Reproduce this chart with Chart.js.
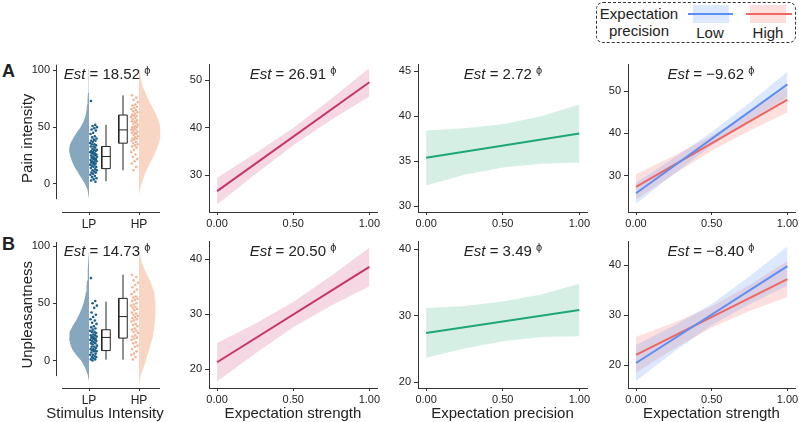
<!DOCTYPE html>
<html>
<head>
<meta charset="utf-8">
<script src="https://cdn.jsdelivr.net/npm/chart.js@4.4.1/dist/chart.umd.min.js"></script>
<style>
  body { margin: 0; background: #fff; width: 799px; height: 422px; position: relative; overflow: hidden;
         font-family: "Liberation Sans", Arial, sans-serif; color: #222; }
  canvas { position: absolute; }
  .est { position: absolute; font-size: 15px; white-space: nowrap; transform: translate(-50%, -50%); }
  .est sup { font-size: 11px; vertical-align: 5px; }
  .tag { position: absolute; font-weight: bold; font-size: 18px; }
  .lg { position: absolute; font-size: 15px; line-height: 17px; text-align: center; }
</style>
</head>
<body>
<div style="position:absolute;left:596px;top:2px;width:200px;height:41px;border:1px dashed #333;border-radius:7px;box-sizing:border-box"></div>
<div class="lg" style="left:599px;top:5px;width:80px">Expectation<br>precision</div>
<div style="position:absolute;left:693px;top:5px;width:36px;height:18px;background:rgba(95,150,250,0.22)"></div>
<div style="position:absolute;left:688px;top:13px;width:45px;height:2px;background:#5B8FF6"></div>
<div class="lg" style="left:690px;top:24px;width:40px">Low</div>
<div style="position:absolute;left:750px;top:5px;width:36px;height:18px;background:rgba(245,110,105,0.22)"></div>
<div style="position:absolute;left:746px;top:13px;width:46px;height:2px;background:#EF6560"></div>
<div class="lg" style="left:743px;top:24px;width:50px">High</div>
<div class="tag" style="left:2px;top:61px">A</div>
<div class="tag" style="left:2px;top:234px">B</div>
<script>
// ---- data ----
var cloudTicks = [1, 2];
var cloudLabels = ['LP', 'HP'];
var xTicks = [0, 0.5, 1];
var lineX = [0, 1];
var bandX = [0, 0.25, 0.5, 0.75, 1];

var estTop = ['18.52', '26.91', '2.72', '\u22129.62'];
var estBottom = ['14.73', '20.50', '3.49', '\u22128.40'];

// raincloud, pain intensity
var painLPLevels = [-13, -5, 0, 5, 10, 15, 20, 25, 30, 35, 40, 45, 50, 55, 60, 65, 70, 75, 80, 90, 100, 103];
var painLPWidths = [0, 0.03, 0.08, 0.15, 0.22, 0.29, 0.34, 0.38, 0.40, 0.38, 0.32, 0.25, 0.17, 0.11, 0.07, 0.05, 0.04, 0.03, 0.02, 0.01, 0.005, 0];
var painHPLevels = [-10, -5, 0, 5, 10, 15, 20, 25, 30, 35, 40, 45, 50, 55, 60, 65, 70, 75, 80, 85, 90, 95, 100, 103];
var painHPWidths = [0, 0.02, 0.05, 0.09, 0.13, 0.18, 0.24, 0.30, 0.35, 0.39, 0.42, 0.43, 0.42, 0.40, 0.35, 0.30, 0.24, 0.18, 0.13, 0.08, 0.05, 0.03, 0.01, 0];
var painLP = [73, 52, 51, 50, 49, 48, 47, 45, 44, 42, 41, 40, 39, 38, 38, 37, 36, 35, 35, 34, 33, 33, 32, 31, 30, 30, 29, 29,
  28, 28, 27, 27, 26, 26, 25, 25, 24, 24, 23, 23, 22, 22, 21, 21, 20, 20, 19, 19, 18, 18, 17, 17, 16, 15, 15, 14, 13, 12,
  12, 11, 10, 10, 9, 8, 7, 6, 5, 4, 3, 2];
var painHP = [78, 76, 74, 72, 70, 69, 68, 67, 66, 65, 64, 63, 62, 61, 60, 60, 59, 58, 57, 56, 55, 55, 54, 53, 52, 51, 50, 50,
  49, 48, 48, 47, 46, 45, 45, 44, 43, 42, 41, 40, 40, 39, 38, 37, 36, 35, 34, 33, 32, 30, 28, 26, 24, 22, 20, 18, 15, 12];
var painLPBox = [2.4, 13.5, 24.2, 33, 52];
var painHPBox = [12, 35.9, 47.6, 60.7, 78];

// raincloud, unpleasantness
var unplLPLevels = [-18, -12, -6, 0, 5, 10, 15, 20, 25, 30, 35, 40, 45, 50, 55, 60, 65, 70, 80, 90, 95];
var unplLPWidths = [0, 0.03, 0.08, 0.16, 0.26, 0.34, 0.38, 0.40, 0.39, 0.33, 0.26, 0.20, 0.15, 0.11, 0.08, 0.06, 0.05, 0.04, 0.025, 0.01, 0];
var unplHPLevels = [-20, -12, -5, 0, 5, 10, 20, 30, 40, 50, 60, 70, 75, 80, 85, 90, 94];
var unplHPWidths = [0, 0.04, 0.10, 0.14, 0.17, 0.21, 0.27, 0.31, 0.33, 0.33, 0.30, 0.22, 0.16, 0.11, 0.06, 0.03, 0];
var unplLP = [72, 52, 50, 48, 46, 42, 40, 38, 36, 35, 33, 32, 30, 29, 28, 27, 26, 25, 25, 24, 23, 22, 22, 21, 21, 20, 20, 19,
  19, 18, 18, 17, 17, 16, 15, 15, 14, 13, 12, 12, 11, 10, 10, 9, 9, 8, 8, 7, 6, 5, 5, 4, 3, 3, 2, 1, 1, 0];
var unplHP = [75, 73, 70, 68, 66, 64, 62, 60, 58, 56, 55, 54, 53, 52, 50, 49, 48, 47, 46, 45, 44, 42, 41, 40, 39, 38, 37, 36,
  35, 34, 32, 31, 30, 28, 27, 26, 25, 24, 22, 21, 20, 19, 18, 16, 15, 13, 12, 10, 8, 6, 5, 3, 1];
var unplLPBox = [0.8, 8.7, 20.2, 26.9, 51.4];
var unplHPBox = [0.8, 19.6, 38.4, 54.3, 75.1];

// model lines + bands, pain intensity
var painStrengthLine = [26.7, 49.6];
var painStrengthUpper = [29.5, 34.6, 39.95, 46.1, 52.6];
var painStrengthLower = [23.9, 30.2, 36.35, 41.7, 46.6];
var painPrecisionLine = [35.37, 38.07];
var painPrecisionUpper = [38.4, 38.65, 39.1, 40.0, 41.3];
var painPrecisionLower = [32.3, 33.5, 34.3, 34.7, 34.85];
var painLowLine = [25.8, 51.6];
var painLowUpper = [28.3, 34.15, 40.3, 47.25, 54.6];
var painLowLower = [23.3, 30.35, 37.1, 43.05, 48.6];
var painHighLine = [27.3, 48.0];
var painHighUpper = [30.3, 34.7, 39.45, 45.0, 51.0];
var painHighLower = [24.3, 30.3, 35.85, 40.6, 45.0];

// model lines + bands, unpleasantness
var unplStrengthLine = [21.3, 38.6];
var unplStrengthUpper = [24.8, 28.3, 32.25, 37.0, 42.1];
var unplStrengthLower = [17.8, 22.9, 27.65, 31.6, 35.1];
var unplPrecisionLine = [27.4, 30.85];
var unplPrecisionUpper = [31.15, 31.46, 32.13, 33.19, 34.8];
var unplPrecisionLower = [23.65, 25.06, 26.13, 26.79, 26.9];
var unplLowLine = [20.4, 39.8];
var unplLowUpper = [24.0, 27.85, 32.2, 37.75, 43.7];
var unplLowLower = [16.8, 22.65, 28.0, 32.15, 35.9];
var unplHighLine = [22.05, 37.2];
var unplHighUpper = [25.65, 28.44, 31.73, 36.01, 40.8];
var unplHighLower = [18.45, 23.24, 27.53, 30.81, 33.6];

// ---- layout / style ----
var ROWS = [[62.5, 211], [239.5, 387]];
var COLS = [[57, 165], [209, 377], [418, 587], [628, 795]];
var ESTX = [107, 293, 503, 711];
var ESTY = [73, 249.5];

var STR = { line: '#C7336B', band: 'rgba(205,60,115,0.2)' };
var PREC = { line: '#1EA775', band: 'rgba(45,175,125,0.2)' };
var LOW = { line: '#5B8FF6', band: 'rgba(95,150,250,0.22)' };
var HIGH = { line: '#EF6560', band: 'rgba(245,110,105,0.22)' };

Chart.defaults.font.family = '"Liberation Sans", Arial, sans-serif';
Chart.defaults.font.size = 11;
Chart.defaults.color = '#222';
Chart.defaults.animation = false;

function pts(xs, ys) {
  return ys.map(function (y, i) { return { x: xs[i], y: y }; });
}

function band(vals_u, vals_l, col) {
  return [
    { data: pts(bandX, vals_u), borderWidth: 0, borderColor: 'transparent', pointRadius: 0, fill: false, order: 3 },
    { data: pts(bandX, vals_l), borderWidth: 0, borderColor: 'transparent', pointRadius: 0, fill: '-1', backgroundColor: col.band, order: 3 }
  ];
}

function line(vals, col, ord) {
  return { data: pts(lineX, vals), borderColor: col.line, borderWidth: 2, pointRadius: 0, fill: false, order: ord };
}

function violin(center, side, levels, widths, color) {
  var d = levels.map(function (y, i) { return { x: center + side * widths[i], y: y }; });
  return { data: d, fill: 'shape', backgroundColor: color, borderWidth: 0, borderColor: 'transparent', pointRadius: 0, order: 6 };
}

function dots(base, vals, color) {
  var d = vals.map(function (y, i) { return { x: base + 0.14 * ((i * 0.618034 + 0.13) % 1), y: y }; });
  return { data: d, showLine: false, pointRadius: 1.3, pointBorderWidth: 0, pointBackgroundColor: color, order: 5 };
}

function box(xc, st) {
  var h = 0.085, k = { borderColor: '#222', borderWidth: 1, pointRadius: 0, fill: false };
  return [
    Object.assign({ data: [{ x: xc, y: st[0] }, { x: xc, y: st[1] }], order: 4 }, k),
    Object.assign({ data: [{ x: xc, y: st[3] }, { x: xc, y: st[4] }], order: 4 }, k),
    Object.assign({}, k, { data: [{ x: xc - h, y: st[1] }, { x: xc + h, y: st[1] }, { x: xc + h, y: st[3] },
      { x: xc - h, y: st[3] }, { x: xc - h, y: st[1] }], fill: 'shape', backgroundColor: '#fff', order: 3 }),
    Object.assign({ data: [{ x: xc - h, y: st[2] }, { x: xc + h, y: st[2] }], order: 2 }, k)
  ];
}

var cloudAxes = {
  id: 'cloudAxes',
  afterDatasetsDraw: function (chart, args, o) {
    if (!o || o.yTop === undefined) return;
    var ctx = chart.ctx, xs = chart.scales.x, ys = chart.scales.y, a = chart.chartArea;
    var lx = Math.round(a.left) - 0.5, by = Math.round(a.bottom) + 0.5;
    ctx.save();
    ctx.strokeStyle = '#333';
    ctx.lineWidth = 1;
    ctx.beginPath();
    ctx.moveTo(lx, ys.getPixelForValue(o.yTop));
    ctx.lineTo(lx, ys.getPixelForValue(o.yEnd));
    ctx.moveTo(xs.getPixelForValue(o.xFrom), by);
    ctx.lineTo(xs.getPixelForValue(o.xTo), by);
    ctx.stroke();
    ctx.restore();
  }
};

function panel(col, row, datasets, o) {
  var padL = col === 0 ? 42 : 50;
  var padB = row === 1 ? 35 : 20;
  var padR = 12, padT = 8;
  var l = COLS[col][0], r = COLS[col][1], t = ROWS[row][0], b = ROWS[row][1];
  var c = document.createElement('canvas');
  c.width = Math.round(r - l + padL + padR);
  c.height = Math.round(b - t + padT + padB);
  c.style.left = (l - padL) + 'px';
  c.style.top = (t - padT) + 'px';
  document.body.appendChild(c);

  var isCloud = col === 0;
  new Chart(c, {
    type: 'line',
    data: { datasets: datasets },
    options: {
      responsive: false,
      devicePixelRatio: 1,
      animation: false,
      layout: { padding: { left: 0, top: padT, right: padR, bottom: 0 } },
      elements: { line: { tension: 0 } },
      plugins: {
        legend: { display: false },
        tooltip: { enabled: false },
        cloudAxes: o.axes || {}
      },
      scales: {
        x: {
          type: 'linear', min: o.xr[0], max: o.xr[1],
          afterBuildTicks: function (s) { s.ticks = o.xt.map(function (v) { return { value: v }; }); },
          afterFit: function (s) { s.height = padB; },
          ticks: {
            padding: 2, color: '#222', maxRotation: 0, autoSkip: false,
            font: { size: isCloud ? 12 : 11 },
            callback: function (v) { return isCloud ? cloudLabels[cloudTicks.indexOf(v)] : v.toFixed(2); }
          },
          grid: { drawOnChartArea: false, tickLength: 3, color: '#333' },
          border: { display: !isCloud, color: '#333', width: 1 },
          title: { display: !!o.xTitle, text: o.xTitle || '', color: '#222', font: { size: 15 }, padding: { top: 0, bottom: 0 } }
        },
        y: {
          min: o.yr[0], max: o.yr[1],
          afterBuildTicks: function (s) { s.ticks = o.yt.map(function (v) { return { value: v }; }); },
          afterFit: function (s) { s.width = padL; },
          ticks: { padding: 3, color: '#222', callback: function (v) { return String(v); } },
          grid: { drawOnChartArea: false, tickLength: 4, color: '#333' },
          border: { display: !isCloud, color: '#333', width: 1 },
          title: { display: !!o.yTitle, text: o.yTitle || '', color: '#222', font: { size: 15 }, padding: { top: 4, bottom: 0 } }
        }
      }
    },
    plugins: [cloudAxes]
  });
}

// ---- row A ----
panel(0, 0, [
  violin(1, -1, painLPLevels, painLPWidths, 'rgba(70,120,155,0.65)'),
  violin(2, 1, painHPLevels, painHPWidths, '#F8D6C3'),
  dots(1.02, painLP, '#1B5E8A'),
  dots(1.84, painHP, '#F0B599')
].concat(box(1.34, painLPBox), box(1.68, painHPBox)), {
  xr: [0.36, 2.52], xt: cloudTicks, yr: [-24.7, 105.1], yt: [0, 50, 100],
  yTitle: 'Pain intensity', axes: { yTop: 105, yEnd: -13.4, xFrom: 0.46, xTo: 2.42 }
});
panel(1, 0, band(painStrengthUpper, painStrengthLower, STR).concat([line(painStrengthLine, STR, 1)]), {
  xr: [-0.053, 1.05], xt: xTicks, yr: [22.3, 53.3], yt: [30, 40, 50]
});
panel(2, 0, band(painPrecisionUpper, painPrecisionLower, PREC).concat([line(painPrecisionLine, PREC, 1)]), {
  xr: [-0.053, 1.05], xt: xTicks, yr: [29.34, 45.75], yt: [30, 35, 40, 45]
});
panel(3, 0, band(painLowUpper, painLowLower, LOW).concat(band(painHighUpper, painHighLower, HIGH),
  [line(painLowLine, LOW, 0), line(painHighLine, HIGH, 1)]), {
  xr: [-0.053, 1.05], xt: xTicks, yr: [21.36, 56.3], yt: [30, 40, 50]
});

// ---- row B ----
panel(0, 1, [
  violin(1, -1, unplLPLevels, unplLPWidths, 'rgba(70,120,155,0.65)'),
  violin(2, 1, unplHPLevels, unplHPWidths, '#F8D6C3'),
  dots(1.02, unplLP, '#1B5E8A'),
  dots(1.84, unplHP, '#F0B599')
].concat(box(1.34, unplLPBox), box(1.68, unplHPBox)), {
  xr: [0.36, 2.52], xt: cloudTicks, yr: [-24.0, 103.9], yt: [0, 50, 100],
  yTitle: 'Unpleasantness', axes: { yTop: 103.5, yEnd: -13.6, xFrom: 0.46, xTo: 2.42 }
});
panel(1, 1, band(unplStrengthUpper, unplStrengthLower, STR).concat([line(unplStrengthLine, STR, 1)]), {
  xr: [-0.053, 1.05], xt: xTicks, yr: [16.63, 43.2], yt: [20, 30, 40], xTitle: 'Expectation strength'
});
panel(2, 1, band(unplPrecisionUpper, unplPrecisionLower, PREC).concat([line(unplPrecisionLine, PREC, 1)]), {
  xr: [-0.053, 1.05], xt: xTicks, yr: [19.1, 41.17], yt: [20, 30, 40], xTitle: 'Expectation precision'
});
panel(3, 1, band(unplLowUpper, unplLowLower, LOW).concat(band(unplHighUpper, unplHighLower, HIGH),
  [line(unplLowLine, LOW, 0), line(unplHighLine, HIGH, 1)]), {
  xr: [-0.053, 1.05], xt: xTicks, yr: [15.4, 44.7], yt: [20, 30, 40], xTitle: 'Expectation strength'
});

// x title of the raincloud panel sits a bit left of its plot area
var st = document.createElement('div');
st.style.cssText = 'position:absolute;left:105px;top:412px;transform:translate(-50%,-50%);font-size:15px;white-space:nowrap';
st.textContent = 'Stimulus Intensity';
document.body.appendChild(st);

// ---- Est annotations ----
[estTop, estBottom].forEach(function (arr, r) {
  arr.forEach(function (v, i) {
    var d = document.createElement('div');
    d.className = 'est';
    d.style.left = ESTX[i] + 'px';
    d.style.top = ESTY[r] + 'px';
    d.innerHTML = '<i>Est</i> = ' + v + ' <sup>\u03D5</sup>';
    document.body.appendChild(d);
  });
});
</script>
</body>
</html>
